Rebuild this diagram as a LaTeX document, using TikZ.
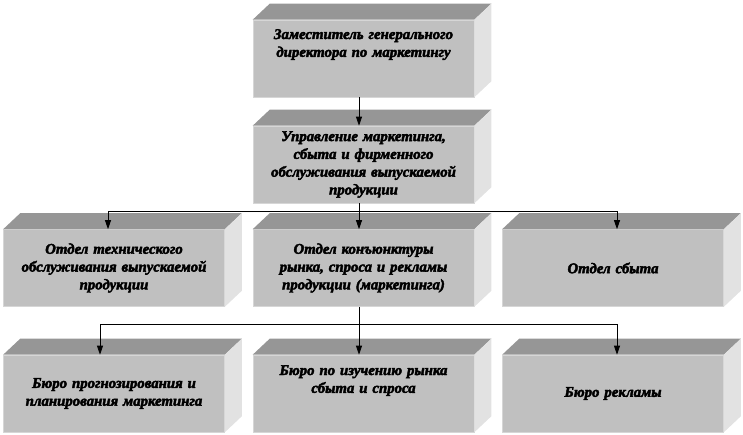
\documentclass[tikz,border=0pt]{standalone}
\usepackage{fontspec}
\setmainfont{Liberation Serif}
\newfontface\boxfont{Liberation Serif Bold Italic}[FakeBold=3]
\usetikzlibrary{arrows.meta}
\definecolor{frontgray}{RGB}{192,192,192}
\definecolor{topgray}{RGB}{150,150,150}
\definecolor{sidegray}{RGB}{226,226,226}
\definecolor{edgegray}{RGB}{214,214,214}
\begin{document}
\begin{tikzpicture}[x=1pt,y=-1pt,line width=0.8pt,
	box/.style={fill=frontgray, draw=edgegray, line width=0.6pt, inner sep=0pt,
		minimum width=221pt, minimum height=77pt, text width=218pt, align=center,
		font=\fontsize{14.8}{17.8}\selectfont\boxfont\bfseries},
	toptext/.style={text height=19pt, text depth=58pt},
	>={Triangle[length=9pt,width=6pt]}]

	\useasboundingbox (0,0) rectangle (743,435);

	% draw upper boxes
	\node[box, toptext] (zam) at (363.5,58.5) {Заместитель генерального\\ директора по маркетингу};
	\node[box] (upr) at (363.5,164.5) {Управление маркетинга,\\ сбыта и фирменного\\ обслуживания выпускаемой\\ продукции};

	% draw departments
	\node[box] (ot1) at (114,268) {Отдел технического\\ обслуживания выпускаемой\\ продукции};
	\node[box] (ot2) at (363.5,268) {Отдел конъюнктуры\\ рынка, спроса и рекламы\\ продукции (маркетинга)};
	\node[box] (ot3) at (613,268) {Отдел сбыта};

	% draw bureaus
	\node[box] (bu1) at (114,393.5) {Бюро прогнозирования и\\ планирования маркетинга};
	\node[box, text height=20pt, text depth=57pt] (bu2) at (363.5,393.5) {Бюро по изучению рынка\\ сбыта и спроса};
	\node[box] (bu3) at (613,393.5) {Бюро рекламы};

	% draw top and side faces
	\foreach \n in {zam,upr,ot1,ot2,ot3,bu1,bu2,bu3}
	{
		\fill[topgray] (\n.north west) -- ++(17,-16) -- ([shift={(17,-16)}]\n.north east) -- (\n.north east) -- cycle;
		\fill[sidegray] (\n.north east) -- ++(17,-16) -- ([shift={(17,-16)}]\n.south east) -- (\n.south east) -- cycle;
	}

	% draw edges
	\draw[->] ([xshift=-4.5pt]zam.south) -- ([xshift=-4.5pt]upr.north);

	\path ([xshift=-4.5pt]upr.south) ++(0,8) coordinate (fork1);
	\draw ([xshift=-4.5pt]upr.south) -- (fork1);
	\draw[->] (fork1) -| ([xshift=-6pt]ot1.north);
	\draw[->] (fork1) -- ([xshift=-4.5pt]ot2.north);
	\draw[->] (fork1) -| ([xshift=4pt]ot3.north);

	\path ([xshift=-4.5pt]ot2.south) ++(0,18) coordinate (fork2);
	\draw ([xshift=-4.5pt]ot2.south) -- (fork2);
	\draw[->] (fork2) -| ([xshift=-14pt]bu1.north);
	\draw[->] (fork2) -- ([xshift=-4.5pt]bu2.north);
	\draw[->] (fork2) -| ([xshift=4pt]bu3.north);

\end{tikzpicture}
\end{document}
